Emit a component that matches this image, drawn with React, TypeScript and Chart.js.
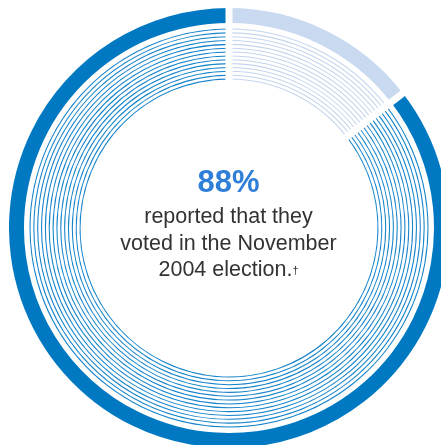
import React, { useEffect, useRef } from "react";
import { Chart, registerables } from "chart.js";

Chart.register(...registerables);

// Shares of the ring, clockwise from 12 o'clock (as drawn in the reference)
const shareLabels = ["Did not vote", "Voted"];
const shares = [14.5, 85.5];

// Centre text
const headline = "88%";
const captionLines = ["reported that they", "voted in the November", "2004 election."];
const footnoteMark = "†";

const DARK = "#0079c2";
const LIGHT = "#c9daf0";
const THIN_DARK = "#1684cb";
const THIN_LIGHT = "#c3d5ee";
const THIN_RING_COUNT = 14;

const gapPlugin = {
  id: "gapLines",
  afterDatasetsDraw(chart: any) {
    const outerMeta = chart.getDatasetMeta(0);
    const innerMeta = chart.getDatasetMeta(chart.data.datasets.length - 1);
    const ctx = chart.ctx;
    ctx.save();
    ctx.strokeStyle = "#ffffff";
    ctx.lineWidth = 7;
    outerMeta.data.forEach((arc: any, i: number) => {
      const inner = innerMeta.data[i].innerRadius - 1;
      const outer = arc.outerRadius + 2;
      const a = arc.startAngle;
      ctx.beginPath();
      ctx.moveTo(arc.x + Math.cos(a) * inner, arc.y + Math.sin(a) * inner);
      ctx.lineTo(arc.x + Math.cos(a) * outer, arc.y + Math.sin(a) * outer);
      ctx.stroke();
    });
    ctx.restore();
  },
};

export default function App() {
  const ref = useRef<HTMLCanvasElement | null>(null);

  useEffect(() => {
    if (!ref.current) return;
    const common = { data: shares, borderWidth: 0, hoverOffset: 0, offset: 0, hoverBorderWidth: 0 };
    const datasets: any[] = [
      { ...common, label: "band", backgroundColor: [LIGHT, DARK], weight: 15 },
      { ...common, label: "gap", backgroundColor: ["rgba(0,0,0,0)", "rgba(0,0,0,0)"], weight: 5.5 },
    ];
    for (let i = 0; i < THIN_RING_COUNT; i++) {
      if (i > 0) {
        datasets.push({ ...common, label: "space" + i, backgroundColor: ["rgba(0,0,0,0)", "rgba(0,0,0,0)"], weight: 2.8 });
      }
      datasets.push({ ...common, label: "ring" + i, backgroundColor: [THIN_LIGHT, THIN_DARK], weight: 1.05 });
    }
    const chart = new Chart(ref.current, {
      type: "doughnut",
      data: { labels: shareLabels, datasets },
      options: {
        responsive: false,
        animation: false,
        events: [],
        cutout: 148.45,
        rotation: 0,
        layout: { padding: 0 },
        plugins: { legend: { display: false }, tooltip: { enabled: false } },
      },
      plugins: [gapPlugin],
    });
    return () => chart.destroy();
  }, []);

  return (
    <div
      style={{
        position: "fixed",
        left: 0,
        top: 0,
        width: 441,
        height: 445,
        overflow: "hidden",
        background: "#ffffff",
      }}
    >
      <canvas
        ref={ref}
        width={440}
        height={440}
        style={{ position: "absolute", left: 9, top: 8, width: 440, height: 440 }}
      />
      <div
        style={{
          position: "absolute",
          left: 28.5,
          width: 400,
          top: 166,
          textAlign: "center",
          fontFamily: "'Liberation Sans', Arial, sans-serif",
          fontWeight: "bold",
          fontSize: 31,
          lineHeight: "31px",
          color: "#2f7fd8",
        }}
      >
        {headline}
      </div>
      <div
        style={{
          position: "absolute",
          left: 28.5,
          width: 400,
          top: 203,
          textAlign: "center",
          fontFamily: "'Liberation Sans', Arial, sans-serif",
          fontSize: 21.5,
          lineHeight: "26.5px",
          color: "#333333",
        }}
      >
        {captionLines.map((line, i) => (
          <div key={i}>
            {line}
            {i === captionLines.length - 1 ? (
              <span style={{ fontSize: 11, verticalAlign: "top", position: "relative", top: 1 }}>{footnoteMark}</span>
            ) : null}
          </div>
        ))}
      </div>
    </div>
  );
}
